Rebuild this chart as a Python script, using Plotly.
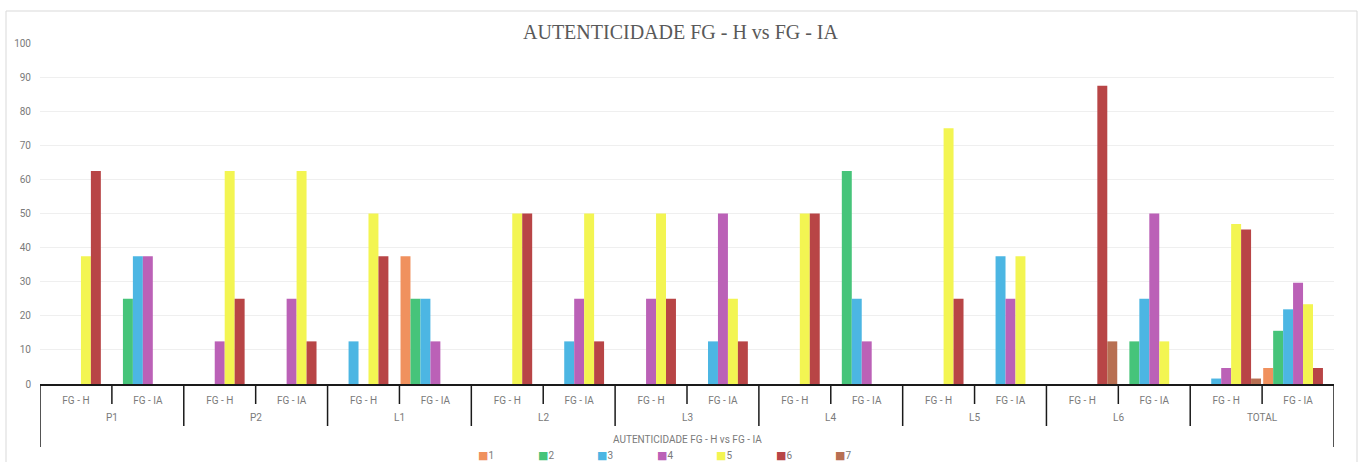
import plotly.graph_objects as go

# Outer groups and the two sources compared inside each group
groups = ["P1", "P2", "L1", "L2", "L3", "L4", "L5", "L6", "TOTAL"]
sources = ["FG - H", "FG - IA"]

# Percentage per authenticity score (1..7), one value per group/source pair
# order: P1 H, P1 IA, P2 H, P2 IA, L1 H, L1 IA, ..., TOTAL H, TOTAL IA
score_1 = [None, None, None, None, None, 37.5, None, None, None, None, None, None, None, None, None, None, None, 4.7]
score_2 = [None, 25, None, None, None, 25, None, None, None, None, None, 62.5, None, None, None, 12.5, None, 15.6]
score_3 = [None, 37.5, None, None, 12.5, 25, None, 12.5, None, 12.5, None, 25, None, 37.5, None, 25, 1.6, 21.9]
score_4 = [None, 37.5, 12.5, 25, None, 12.5, None, 25, 25, 50, None, 12.5, None, 25, None, 50, 4.7, 29.7]
score_5 = [37.5, None, 62.5, 62.5, 50, None, 50, 50, 50, 25, 50, None, 75, 37.5, None, 12.5, 46.9, 23.4]
score_6 = [62.5, None, 25, 12.5, 37.5, None, 50, 12.5, 25, 12.5, 50, None, 25, None, 87.5, None, 45.3, 4.7]
score_7 = [None, None, None, None, None, None, None, None, None, None, None, None, None, None, 12.5, None, 1.6, None]

series_names = ["1", "2", "3", "4", "5", "6", "7"]
series_values = [score_1, score_2, score_3, score_4, score_5, score_6, score_7]
series_colors = ["#F0915E", "#46C47A", "#4CB6E3", "#BB61B7", "#F3F552", "#B84546", "#B86F52"]

y_ticks = [0, 10, 20, 30, 40, 50, 60, 70, 80, 90, 100]

chart_title = "AUTENTICIDADE FG - H vs FG - IA"
axis_title = "AUTENTICIDADE FG - H vs FG - IA"

W, H = 1361, 462
ML, MR, MT, MB = 40, 27, 43, 78
plot_w = W - ML - MR
plot_h = H - MT - MB

n_slots = len(groups) * len(sources)
slot_pos = list(range(n_slots))
slot_labels = [s for _ in groups for s in sources]

TEXT = "#7a7a7a"
FONT = "Roboto, Arial, sans-serif"

fig = go.Figure()
for name, vals, col in zip(series_names, series_values, series_colors):
    fig.add_trace(go.Bar(
        x=slot_pos, y=vals, name=name, showlegend=False,
        marker=dict(color=col, line=dict(width=0)),
    ))


def py(pix):
    # pixel row -> paper y
    return (H - MB - pix) / plot_h


def px(pix):
    return (pix - ML) / plot_w


shapes = []
# frame around the whole chart
shapes.append(dict(type="rect", xref="paper", yref="paper",
                   x0=px(6), x1=px(1357), y0=py(475), y1=py(11),
                   line=dict(color="#d9d9d9", width=1), layer="below"))
# table-style separators below the category axis
for k in range(n_slots + 1):
    if k == 0 or k == n_slots:
        bottom = py(447)
    elif k % 2 == 0:
        bottom = py(426)
    else:
        bottom = py(404)
    shapes.append(dict(type="line", xref="x", yref="paper",
                       x0=k - 0.5, x1=k - 0.5, y0=0, y1=bottom,
                       line=dict(color="#1a1a1a", width=1.5)))

annotations = []
for i, g in enumerate(groups):
    annotations.append(dict(x=2 * i + 0.5, xref="x", y=py(418), yref="paper",
                            text=g, showarrow=False, xanchor="center", yanchor="middle",
                            font=dict(family=FONT, size=10, color=TEXT)))
annotations.append(dict(x=0.5, xref="paper", y=py(439), yref="paper",
                        text=axis_title, showarrow=False, xanchor="center", yanchor="middle",
                        font=dict(family=FONT, size=10, color=TEXT)))

# compact legend row: small colour square followed by the series name
legend_x0, legend_step = 476, 59.5
for i, (name, col) in enumerate(zip(series_names, series_colors)):
    annotations.append(dict(
        x=px(legend_x0 + i * legend_step), xref="paper", y=py(455), yref="paper",
        text=f'<span style="color:{col};font-family:DejaVu Sans;font-size:11px">■</span>{name}',
        showarrow=False, xanchor="left", yanchor="middle",
        font=dict(family=FONT, size=10, color=TEXT),
    ))

fig.update_layout(
    width=W, height=H,
    margin=dict(l=ML, r=MR, t=MT, b=MB, pad=0, autoexpand=False),
    paper_bgcolor="white", plot_bgcolor="white",
    barmode="group", bargap=0.03, bargroupgap=0,
    title=dict(text=chart_title, x=0.5, xanchor="center", y=1 - 32 / H, yanchor="middle",
               font=dict(family="Liberation Serif, Times New Roman, serif", size=20, color="#595959")),
    xaxis=dict(
        range=[-0.5, n_slots - 0.5], tickmode="array", tickvals=slot_pos, ticktext=slot_labels,
        showgrid=False, zeroline=False, ticks="", showline=True, linecolor="#1a1a1a", linewidth=1.5,
        tickfont=dict(family=FONT, size=10, color=TEXT), ticklabelstandoff=6, automargin=False,
    ),
    yaxis=dict(
        range=[0, 100], tickmode="array", tickvals=y_ticks, showgrid=True, gridcolor="#efefef",
        gridwidth=1, zeroline=False, showline=False, ticks="", automargin=False,
        tickfont=dict(family=FONT, size=10, color=TEXT), ticklabelstandoff=8,
    ),
    shapes=shapes, annotations=annotations,
)

fig.write_html("out.html")
